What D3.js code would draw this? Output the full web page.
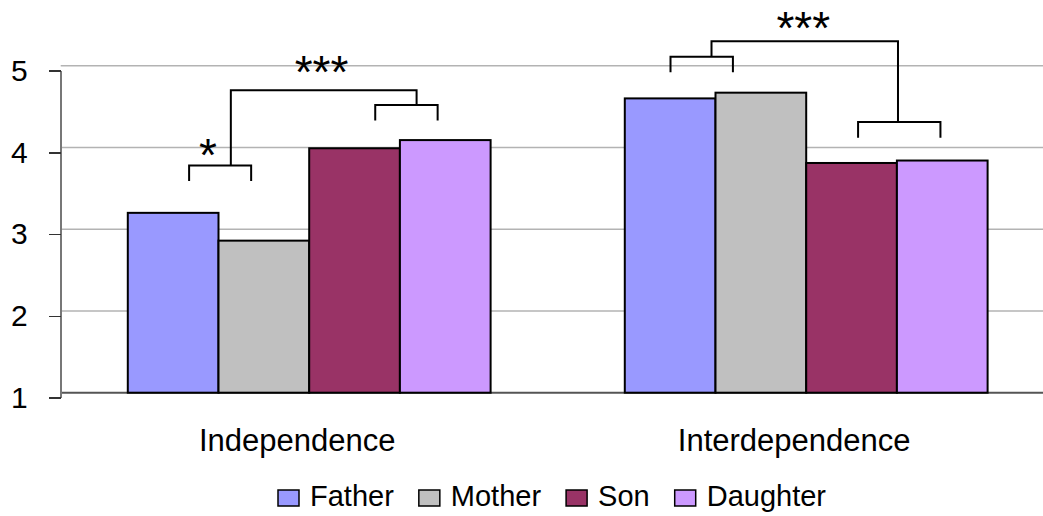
<html>
    <head>
        <style>
            body { margin: 0; background: #fff; }
            text { font-family: "Liberation Sans", Arial, sans-serif; fill: #000; }
            .grid line { stroke: #b3b3b3; stroke-width: 1.5px; }
            .y.axis path { stroke: #777; stroke-width: 1.5px; shape-rendering: crispEdges; }
            .y.axis line { stroke: #333; stroke-width: 1.5px; shape-rendering: crispEdges; }
            .y.axis text { font-size: 30px; }
            .bar { stroke: #000; stroke-width: 2px; }
            .bracket { fill: none; stroke: #000; stroke-width: 2px; }
        </style>
    </head>
    <body>
        <div id="chart"></div>
        <script src="https://d3js.org/d3.v7.min.js"></script>
        <script>
            const categories = ['Independence', 'Interdependence'];
            const series = ['Father', 'Mother', 'Son', 'Daughter'];
            const colors = ['#9999ff', '#c0c0c0', '#993366', '#cc99ff'];
            const independence = [3.20, 2.86, 3.99, 4.09];
            const interdependence = [4.60, 4.67, 3.81, 3.84];
            const yTicks = [1, 2, 3, 4, 5];

            // significance annotations: position as fraction of group width, height in axis units
            const brackets = [
                { cat: 'Independence', from: 0.169, to: 0.340, y: 3.78, foot: 3.59 },
                { cat: 'Independence', from: 0.682, to: 0.854, y: 4.52, foot: 4.33 },
                { cat: 'Interdependence', from: 0.126, to: 0.298, y: 5.11, foot: 4.92 },
                { cat: 'Interdependence', from: 0.643, to: 0.870, y: 4.31, foot: 4.12 }
            ];
            const links = [
                { cat: 'Independence', from: 0.284, to: 0.796, y1: 3.78, peak: 4.70, y2: 4.52 },
                { cat: 'Interdependence', from: 0.239, to: 0.753, y1: 5.11, peak: 5.30, y2: 4.31 }
            ];
            const stars = [
                { cat: 'Independence', at: 0.221, y: 3.71, label: '*' },
                { cat: 'Independence', at: 0.534, y: 4.73, label: '***' },
                { cat: 'Interdependence', at: 0.492, y: 5.26, label: '***' }
            ];

            const values = { Independence: independence, Interdependence: interdependence };
            const data = categories.map(c => ({ cat: c, vals: series.map((s, i) => ({ s, i, v: values[c][i] })) }));

            const width = 1043, height = 516;
            const plotLeft = 60.7, plotRight = 1054.7, plotBottom = 392.7, plotTop = 65.7;

            const svg = d3.select('#chart')
                .append('svg')
                .attr('width', width)
                .attr('height', height);

            const x0 = d3.scaleBand()
                .domain(categories)
                .range([plotLeft, plotRight])
                .paddingInner(0.27)
                .paddingOuter(0.135);

            const x1 = d3.scaleBand()
                .domain(series)
                .range([0, x0.bandwidth()]);

            const y = d3.scaleLinear()
                .domain([1, 5])
                .range([plotBottom, plotTop]);

            const fx = (cat, f) => x0(cat) + f * x0.bandwidth();

            // gridlines
            svg.append('g')
                .attr('class', 'grid')
                .selectAll('line')
                .data(yTicks.slice(1))
                .join('line')
                .attr('x1', plotLeft)
                .attr('x2', width)
                .attr('y1', d => y(d))
                .attr('y2', d => y(d));

            // baseline
            svg.append('line')
                .attr('x1', plotLeft).attr('x2', width)
                .attr('y1', y(1)).attr('y2', y(1))
                .attr('stroke', '#555')
                .attr('stroke-width', 2);

            // bars
            const groups = svg.selectAll('.group')
                .data(data)
                .join('g')
                .attr('class', 'group')
                .attr('transform', d => `translate(${x0(d.cat)},0)`);

            groups.selectAll('rect')
                .data(d => d.vals)
                .join('rect')
                .attr('class', 'bar')
                .attr('x', d => x1(d.s))
                .attr('width', x1.bandwidth())
                .attr('y', d => y(d.v))
                .attr('height', d => y(1) - y(d.v))
                .attr('fill', d => colors[d.i]);

            // y axis (ticks sit a little below the gridlines, as in the original)
            svg.append('g')
                .attr('class', 'y axis')
                .attr('transform', `translate(${plotLeft},5)`)
                .call(d3.axisLeft(y).tickValues(yTicks).tickFormat(d3.format('d'))
                    .tickSize(12).tickSizeOuter(0).tickPadding(21));

            // category labels
            svg.append('g')
                .selectAll('text')
                .data(categories)
                .join('text')
                .attr('x', d => x0(d) + x0.bandwidth() / 2 - 12)
                .attr('y', 451)
                .attr('text-anchor', 'middle')
                .style('font-size', '31px')
                .text(d => d);

            // brackets
            svg.selectAll('.br')
                .data(brackets)
                .join('path')
                .attr('class', 'bracket br')
                .attr('d', d => d3.line()([
                    [fx(d.cat, d.from), y(d.foot)],
                    [fx(d.cat, d.from), y(d.y)],
                    [fx(d.cat, d.to), y(d.y)],
                    [fx(d.cat, d.to), y(d.foot)]
                ]));

            svg.selectAll('.lk')
                .data(links)
                .join('path')
                .attr('class', 'bracket lk')
                .attr('d', d => d3.line()([
                    [fx(d.cat, d.from), y(d.y1)],
                    [fx(d.cat, d.from), y(d.peak)],
                    [fx(d.cat, d.to), y(d.peak)],
                    [fx(d.cat, d.to), y(d.y2)]
                ]));

            svg.selectAll('.star')
                .data(stars)
                .join('text')
                .attr('class', 'star')
                .attr('x', d => fx(d.cat, d.at))
                .attr('y', d => y(d.y))
                .attr('text-anchor', 'middle')
                .style('font-size', '46px')
                .text(d => d.label);

            // legend
            const legend = svg.append('g').attr('transform', 'translate(278,0)');
            let lx = 0;
            series.forEach((s, i) => {
                legend.append('rect')
                    .attr('x', lx).attr('y', 490)
                    .attr('width', 21).attr('height', 16)
                    .attr('fill', colors[i])
                    .attr('stroke', '#000')
                    .attr('stroke-width', 1.5);
                const t = legend.append('text')
                    .attr('x', lx + 32).attr('y', 506)
                    .style('font-size', '29px')
                    .text(s);
                lx += 32 + t.node().getComputedTextLength() + 25;
            });
        </script>
    </body>
</html>
